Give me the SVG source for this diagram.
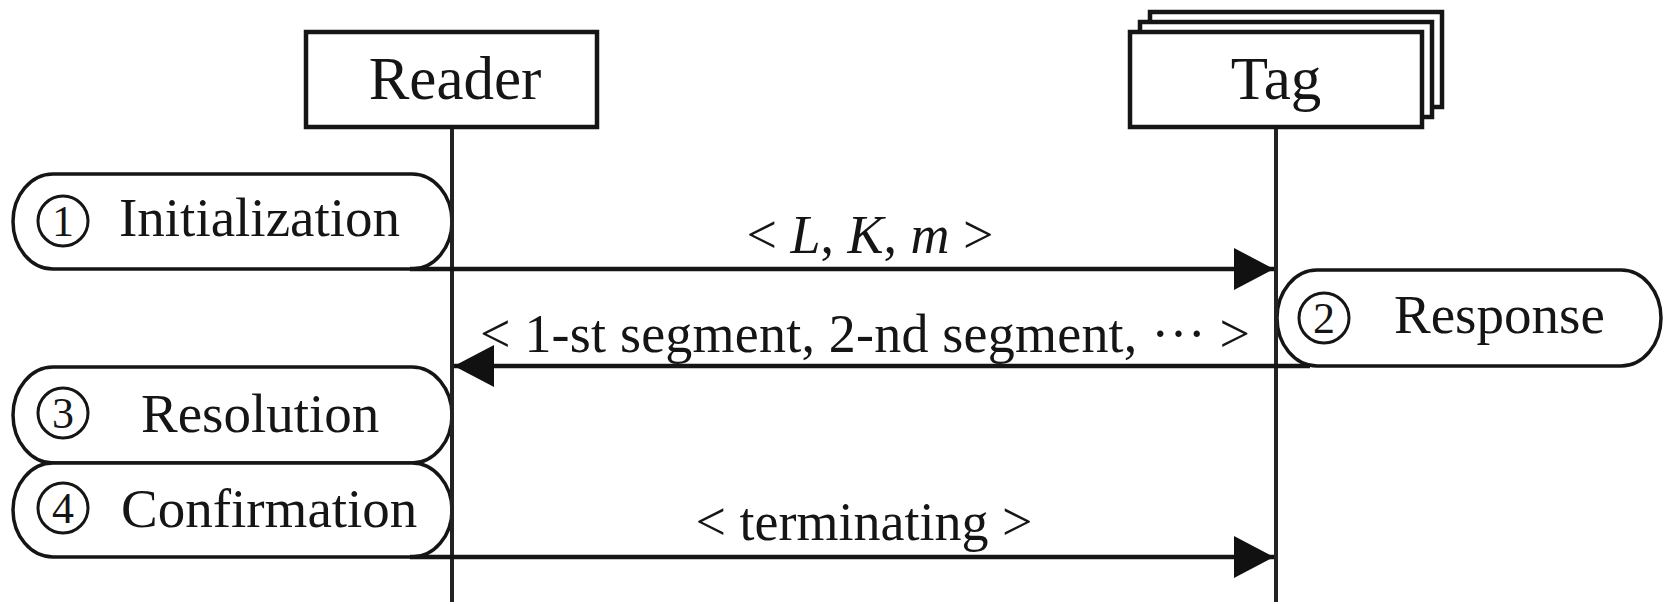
<svg xmlns="http://www.w3.org/2000/svg" width="1664" height="604" viewBox="0 0 1664 604">
  <style>
    .box { fill: #fff; stroke: #151515; stroke-width: 4.5; }
    .pill { fill: #fff; stroke: #151515; stroke-width: 3.5; }
    .num { fill: none; stroke: #151515; stroke-width: 3; }
    .life { stroke: #222; stroke-width: 4; fill: none; }
    .msg { stroke: #151515; stroke-width: 4.5; fill: none; }
    text { font-family: "Liberation Serif", "Times New Roman", serif; fill: #151515; }
    .actor { font-size: 61px; text-anchor: middle; }
    .step { font-size: 55px; }
    .digit { font-size: 44px; text-anchor: middle; }
    .label { font-size: 54px; text-anchor: middle; }
    .it { font-style: italic; }
  </style>
  <defs>
    <marker id="arrow" markerUnits="userSpaceOnUse" markerWidth="40" markerHeight="42" refX="40" refY="21" orient="auto">
      <path d="M0,0 L40,21 L0,42 Z" fill="#111"/>
    </marker>
  </defs>

  <rect width="1664" height="604" fill="#fff"/>

  <!-- protocol steps -->
  <g id="step-initialization">
    <rect class="pill" x="13" y="174" width="439" height="95" rx="40" ry="47.5"/>
    <circle class="num" cx="63" cy="221" r="25"/>
    <text class="digit" x="63" y="236">1</text>
    <text class="step" x="119" y="236">Initialization</text>
  </g>
  <g id="step-response">
    <rect class="pill" x="1277" y="270" width="384" height="96" rx="40" ry="48"/>
    <circle class="num" cx="1324" cy="318" r="25"/>
    <text class="digit" x="1324" y="333">2</text>
    <text class="step" x="1394" y="333">Response</text>
  </g>
  <g id="step-resolution">
    <rect class="pill" x="13" y="367" width="439" height="96" rx="40" ry="48"/>
    <circle class="num" cx="63" cy="413" r="25"/>
    <text class="digit" x="63" y="428">3</text>
    <text class="step" x="141" y="432">Resolution</text>
  </g>
  <g id="step-confirmation">
    <rect class="pill" x="13" y="463" width="439" height="94" rx="40" ry="47"/>
    <circle class="num" cx="63" cy="508" r="25"/>
    <text class="digit" x="63" y="523">4</text>
    <text class="step" x="121" y="527">Confirmation</text>
  </g>

  <!-- lifelines and messages -->
  <g id="connectors">
    <line class="life" x1="452" y1="127" x2="452" y2="602"/>
    <line class="life" x1="1276" y1="127" x2="1276" y2="602"/>

    <line class="msg" x1="410" y1="269" x2="1274" y2="269" marker-end="url(#arrow)"/>
    <text class="label" x="870" y="253">&lt; <tspan class="it">L</tspan>, <tspan class="it">K</tspan>, <tspan class="it">m</tspan> &gt;</text>

    <line class="msg" x1="1310" y1="366" x2="454" y2="366" marker-end="url(#arrow)"/>
    <text class="label" x="865" y="352" textLength="770" lengthAdjust="spacing">&lt; 1-st segment, 2-nd segment, ··· &gt;</text>

    <line class="msg" x1="410" y1="557" x2="1274" y2="557" marker-end="url(#arrow)"/>
    <text class="label" x="864" y="540">&lt; terminating &gt;</text>
  </g>

  <!-- participants -->
  <g id="reader">
    <rect class="box" x="306" y="32" width="291" height="95"/>
    <text class="actor" x="455" y="99">Reader</text>
  </g>
  <g id="tag">
    <rect class="box" x="1150" y="12" width="292" height="95" stroke-width="3.5"/>
    <rect class="box" x="1140" y="22" width="292" height="95" stroke-width="3.5"/>
    <rect class="box" x="1130" y="32" width="292" height="95"/>
    <text class="actor" x="1276" y="99">Tag</text>
  </g>
</svg>
